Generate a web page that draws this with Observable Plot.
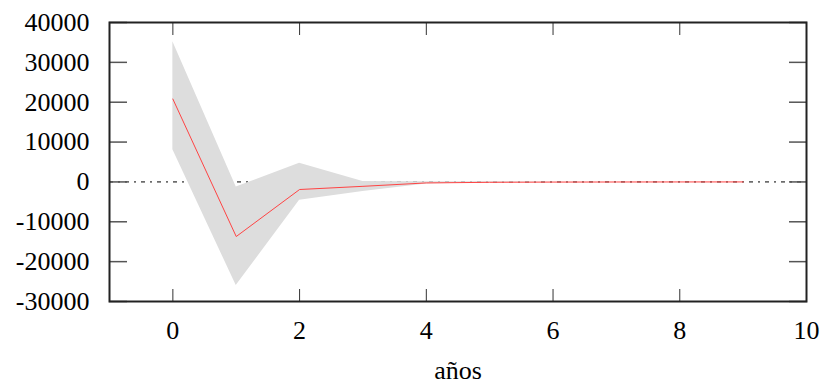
<!DOCTYPE html>
<html>
<head>
<meta charset="utf-8">
<script src="https://cdn.jsdelivr.net/npm/d3@7"></script>
<script src="https://cdn.jsdelivr.net/npm/@observablehq/plot@0.6"></script>
<style>
  html, body { margin: 0; padding: 0; background: #fff; }
  #chart svg { display: block; }
</style>
</head>
<body>
<div id="chart"></div>
<script>
const years  = [0, 1, 2, 3, 4, 5, 6, 7, 8, 9];
const center = [20800, -13700, -1900, -1100, -250, -100, -40, -15, -5, -2];
const upper  = [35200, -1300, 4700, 100, 50, 20, 10, 5, 2, 1];
const lower  = [8100, -26000, -4600, -2400, -500, -200, -80, -30, -10, -4];
const xTicks = [0, 2, 4, 6, 8, 10];
const yTicks = [-30000, -20000, -10000, 0, 10000, 20000, 30000, 40000];
const xLabel = "años";

const data = years.map((t, i) => ({t, c: center[i], hi: upper[i], lo: lower[i]}));
const FF = "Liberation Serif, Times New Roman, Times, Noto Serif, DejaVu Serif, serif";

const chart = Plot.plot({
  width: 825,
  height: 386,
  marginLeft: 109,
  marginRight: 19,
  marginTop: 22,
  marginBottom: 85,
  style: {fontFamily: FF, fontSize: "26px", background: "#fff", color: "#000"},
  x: {domain: [-1, 10]},
  y: {domain: [-30000, 40000]},
  marks: [
    Plot.ruleY([0], {stroke: "#000", strokeWidth: 1, strokeDasharray: "4,5,2,5"}),
    Plot.areaY(data, {x: "t", y1: "lo", y2: "hi", fill: "#dddddd"}),
    Plot.line(data, {x: "t", y: "c", stroke: "#f44", strokeWidth: 1}),
    Plot.axisY(yTicks, {anchor: "left", tickSize: -18, tickPadding: 38, stroke: "#555", strokeWidth: 1.5, tickFormat: d => String(d), label: null, fontSize: 26, fontFamily: FF}),
    Plot.axisY(yTicks, {anchor: "right", tickSize: -18, tickPadding: 0, stroke: "#555", strokeWidth: 1.5, tickFormat: () => "", label: null}),
    Plot.axisX(xTicks, {anchor: "bottom", tickSize: -12, tickPadding: 31, stroke: "#333", strokeWidth: 1, tickFormat: d => String(d), label: null, fontSize: 26, fontFamily: FF}),
    Plot.axisX(xTicks, {anchor: "top", tickSize: -12, tickPadding: 0, stroke: "#333", strokeWidth: 1, tickFormat: () => "", label: null}),
    Plot.frame({stroke: "#222", strokeWidth: 2}),
    Plot.text([xLabel], {frameAnchor: "bottom", dy: 69, text: d => d, fontSize: 26, fontFamily: FF, lineAnchor: "middle"})
  ]
});
document.getElementById("chart").appendChild(chart);
</script>
</body>
</html>
